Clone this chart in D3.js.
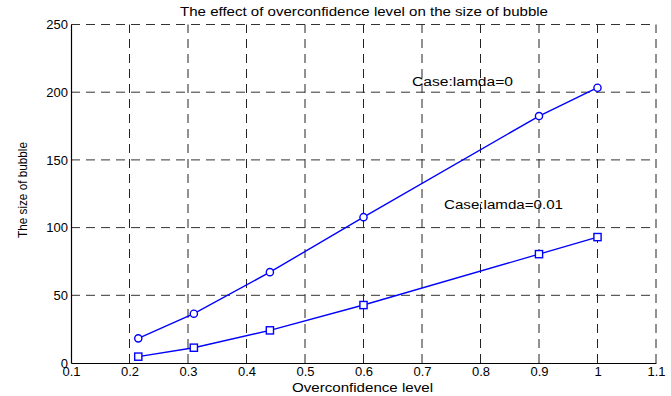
<!DOCTYPE html>
<html>
<head>
<meta charset="utf-8">
<script src="https://cdn.jsdelivr.net/npm/d3@7"></script>
<style>
  body { margin: 0; background: #fff; }
  text { font-family: "Liberation Sans", Arial, sans-serif; fill: #000; }
</style>
</head>
<body>
<div id="app"></div>
<script>
// chart values
var overconfidence = [0.215, 0.31, 0.44, 0.6, 0.9, 1.0];
var bubbleLamda0 = [18.2, 36.4, 67.1, 107.7, 182.4, 203.3];
var bubbleLamda001 = [4.7, 11.3, 24.1, 42.8, 80.4, 93];
var xTicks = [0.1, 0.2, 0.3, 0.4, 0.5, 0.6, 0.7, 0.8, 0.9, 1, 1.1];
var yTicks = [0, 50, 100, 150, 200, 250];

var width = 671,
  height = 396,
  plotLeft = 71, plotRight = 656, plotTop = 24.5, plotBottom = 363;

var svg = d3.select("#app")
  .append("svg")
  .attr("width", width)
  .attr("height", height);

var x = d3.scaleLinear().domain([0.1, 1.1]).range([plotLeft, plotRight]);
var y = d3.scaleLinear().domain([0, 250]).range([plotBottom, plotTop]);

// dashed grid
svg.append("g")
  .selectAll("line")
  .data(xTicks.slice(1))
  .enter().append("line")
  .attr("x1", d => x(d)).attr("x2", d => x(d))
  .attr("y1", plotBottom).attr("y2", plotTop)
  .attr("stroke", "#222")
  .attr("stroke-dasharray", "9,6");

svg.append("g")
  .selectAll("line")
  .data(yTicks.slice(1))
  .enter().append("line")
  .attr("y1", d => y(d)).attr("y2", d => y(d))
  .attr("x1", plotLeft).attr("x2", plotRight)
  .attr("stroke", "#333")
  .attr("stroke-dasharray", "9,6");

// axes
var xAxis = svg.append("g")
  .attr("transform", "translate(0," + plotBottom + ")")
  .call(d3.axisBottom(x).tickValues(xTicks).tickSize(0).tickPadding(4)
    .tickFormat(d3.format("")));
var yAxis = svg.append("g")
  .attr("transform", "translate(" + plotLeft + ",0)")
  .call(d3.axisLeft(y).tickValues(yTicks).tickSize(0).tickPadding(3));

[xAxis, yAxis].forEach(a => {
  a.select(".domain").attr("stroke", "#000").attr("stroke-width", 1.2);
  a.selectAll("text")
    .style("font-family", "'Liberation Sans', Arial, sans-serif")
    .style("font-size", "13px")
    .attr("fill", "#000");
});

// series
var line = d3.line()
  .x((d, i) => x(overconfidence[i]))
  .y(d => y(d));

svg.append("path")
  .datum(bubbleLamda0)
  .attr("d", line)
  .attr("fill", "none")
  .attr("stroke", "#0000ff")
  .attr("stroke-width", 1.4);

svg.append("path")
  .datum(bubbleLamda001)
  .attr("d", line)
  .attr("fill", "none")
  .attr("stroke", "#0000ff")
  .attr("stroke-width", 1.4);

svg.append("g")
  .selectAll("circle")
  .data(bubbleLamda0)
  .enter().append("circle")
  .attr("cx", (d, i) => x(overconfidence[i]))
  .attr("cy", d => y(d))
  .attr("r", 3.6)
  .attr("fill", "#fff")
  .attr("stroke", "#0000ff")
  .attr("stroke-width", 1.4);

svg.append("g")
  .selectAll("rect")
  .data(bubbleLamda001)
  .enter().append("rect")
  .attr("x", (d, i) => x(overconfidence[i]) - 3.6)
  .attr("y", d => y(d) - 3.6)
  .attr("width", 7.2)
  .attr("height", 7.2)
  .attr("fill", "#fff")
  .attr("stroke", "#0000ff")
  .attr("stroke-width", 1.4);

// texts
svg.append("text")
  .attr("x", 180).attr("y", 16)
  .attr("textLength", 368)
  .attr("lengthAdjust", "spacingAndGlyphs")
  .style("font-size", "12.5px")
  .text("The effect of overconfidence level on the size of bubble");

svg.append("text")
  .attr("x", 292).attr("y", 392)
  .attr("textLength", 141)
  .attr("lengthAdjust", "spacingAndGlyphs")
  .style("font-size", "12.5px")
  .text("Overconfidence level");

svg.append("text")
  .attr("transform", "translate(27,238) rotate(-90)")
  .attr("textLength", 96)
  .attr("lengthAdjust", "spacingAndGlyphs")
  .style("font-size", "12px")
  .text("The size of bubble");

svg.append("text")
  .attr("x", 412).attr("y", 86)
  .attr("textLength", 101)
  .attr("lengthAdjust", "spacingAndGlyphs")
  .style("font-size", "12.5px")
  .text("Case:lamda=0");

svg.append("text")
  .attr("x", 444).attr("y", 209)
  .attr("textLength", 119)
  .attr("lengthAdjust", "spacingAndGlyphs")
  .style("font-size", "12.5px")
  .text("Case:lamda=0.01");
</script>
</body>
</html>
